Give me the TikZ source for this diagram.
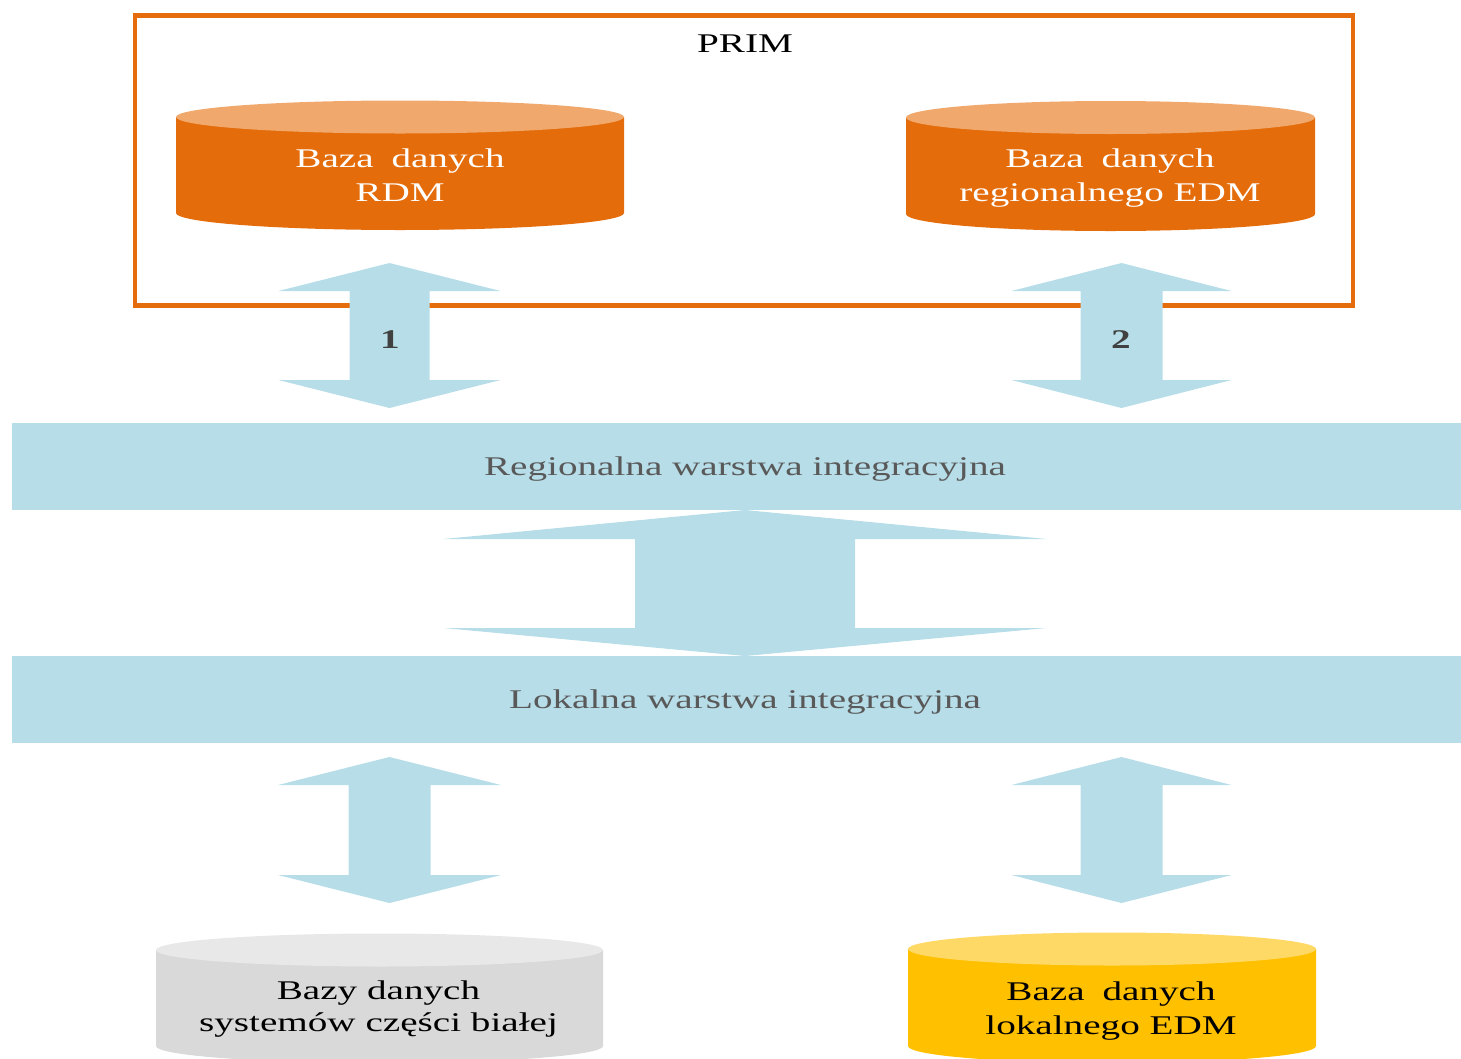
\documentclass[tikz,border=0pt]{standalone}
\usepackage{fontspec}
\setmainfont[FakeStretch=1.45]{Liberation Serif}

\definecolor{primorange}{HTML}{E46C0A}
\definecolor{cyltop}{HTML}{F0A86C}
\definecolor{bandblue}{HTML}{B7DDE8}
\definecolor{greybody}{HTML}{D9D9D9}
\definecolor{greytop}{HTML}{E8E8E8}
\definecolor{yellowbody}{HTML}{FFC000}
\definecolor{yellowtop}{HTML}{FFD966}
\definecolor{labelgrey}{HTML}{595959}
\definecolor{numgrey}{HTML}{404040}

% drum: centre x, top y, bottom y, x radius, body colour, lid colour
\newcommand{\dbdrum}[6]{%
  \fill[#5] ({#1-#4},#2) -- ({#1-#4},#3) arc[start angle=180, end angle=0, x radius=#4, y radius=17] -- ({#1+#4},#2) -- cycle;
  \fill[#6] (#1,#2) ellipse[x radius=#4, y radius=16.5];
}
% double block arrow: centre x, top tip, top wings, bottom wings, bottom tip, half head, half shaft
\newcommand{\dblarrow}[7]{%
  \fill[bandblue] (#1,#2) -- ({#1+#6},#3) -- ({#1+#7},#3) -- ({#1+#7},#4) -- ({#1+#6},#4) -- (#1,#5)
    -- ({#1-#6},#4) -- ({#1-#7},#4) -- ({#1-#7},#3) -- ({#1-#6},#3) -- cycle;
}

\begin{document}
\begin{tikzpicture}[
  x=1pt, y=-1pt,
  frame/.style={rectangle, draw=primorange, line width=4.5pt, minimum width=1218pt, minimum height=290pt, inner sep=0pt},
  band/.style={rectangle, fill=bandblue, text=labelgrey, minimum width=1466pt, minimum height=87pt, inner sep=0pt, text height=18pt, text depth=0pt},
  dbtext/.style={align=center, inner sep=0pt},
  num/.style={font=\fontsize{27}{34}\selectfont\bfseries, text=numgrey, inner sep=0pt},
  font=\fontsize{27}{34}\selectfont
]
\useasboundingbox (0,0) rectangle (1461,1058);

\node[frame] (prim) at (743.75,160.25) {};
\node[inner sep=0pt] (primlabel) at (745,44) {PRIM};

% Databases
\dbdrum{400}{117}{213}{224}{primorange}{cyltop}
\dbdrum{1110.5}{117.5}{214}{204.5}{primorange}{cyltop}
\dbdrum{379.5}{950}{1046}{223.5}{greybody}{greytop}
\dbdrum{1112}{949}{1046}{204}{yellowbody}{yellowtop}

\node[dbtext, text=white] (rdm) at (400,175) {Baza\hspace{0.3em} danych\\RDM};
\node[dbtext, text=white] (redm) at (1110,178) {Baza\hspace{0.3em} danych\\regionalnego EDM};
\node[dbtext, font=\fontsize{27}{32}\selectfont] (white) at (378.5,1009) {Bazy danych\\systemów części białej};
\node[dbtext] (ledm) at (1111,1011) {Baza\hspace{0.3em} danych\\lokalnego EDM};

% Layers
\node[band] (regional) at (745,466.5) {Regionalna warstwa integracyjna};
\node[band] (local) at (745,699.5) {Lokalna warstwa integracyjna};

% Arrows
\dblarrow{389.5}{263}{291}{380}{408}{111}{40}
\dblarrow{1121.5}{263}{291}{380}{408}{110}{41}
\dblarrow{745}{510}{539}{628}{656}{301.5}{110}
\dblarrow{389.5}{757}{785}{875}{903}{111.5}{41}
\dblarrow{1121.5}{757}{785}{875}{903}{110}{41}

\node[num] (one) at (390,340) {1};
\node[num] (two) at (1121,340) {2};
\end{tikzpicture}
\end{document}
